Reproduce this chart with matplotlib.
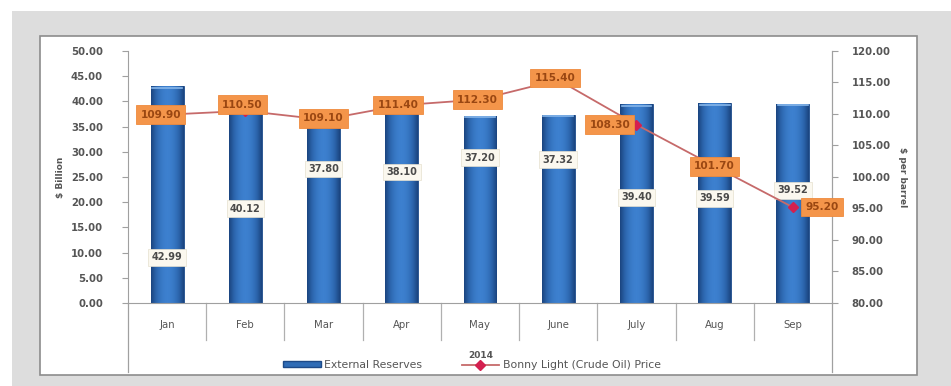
import numpy as np
import matplotlib.pyplot as plt
from matplotlib.patches import Rectangle
from matplotlib.lines import Line2D

# monthly figures, 2014
months = ['Jan', 'Feb', 'Mar', 'Apr', 'May', 'June', 'July', 'Aug', 'Sep']
reserves = [42.99, 40.12, 37.80, 38.10, 37.20, 37.32, 39.40, 39.59, 39.52]
oil_price = [109.90, 110.50, 109.10, 111.40, 112.30, 115.40, 108.30, 101.70, 95.20]

# where the reserve labels sit on each bar ($ billion scale)
reserve_label_y = [9.1, 18.7, 26.6, 26.0, 28.8, 28.4, 21.0, 20.8, 22.4]
# nudges of the price labels (category units / $ per barrel)
price_label_dx = [-0.08, -0.04, 0.0, -0.05, -0.03, -0.04, -0.34, 0.0, 0.37]
price_label_dy = [0.0, 1.0, 0.2, 0.0, 0.0, 0.3, 0.0, 0.0, 0.0]

W, H = 951, 386
fig = plt.figure(figsize=(W / 100, H / 100), dpi=100)
fig.patch.set_facecolor('white')

def px(x, y, w, h):
    return (x / W, 1 - (y + h) / H, w / W, h / H)

# grey backdrop and white chart panel
x0, y0, w0, h0 = px(12, 11, 939, 375)
fig.patches.append(Rectangle((x0, y0), w0, h0, transform=fig.transFigure,
                             facecolor='#dddddd', edgecolor='none', zorder=-10))
x1, y1, w1, h1 = px(40, 36, 877, 339)
fig.patches.append(Rectangle((x1, y1), w1, h1, transform=fig.transFigure,
                             facecolor='white', edgecolor='#8c8c8c', linewidth=1.2, zorder=-9))

ax = fig.add_axes(px(128, 51, 704, 252))
ax.patch.set_alpha(0)
x = np.arange(len(months))
ax.set_xlim(-0.5, len(months) - 0.5)
ax.set_ylim(0, 50)
ax.set_yticks(np.arange(0, 50.1, 5))
ax.set_yticklabels(['%.2f' % v for v in np.arange(0, 50.1, 5)])

# bars with a cylinder-like shading
bar_w = 0.42
bars = ax.bar(x, reserves, width=bar_w, color='#2f6cb6', edgecolor='#1d4a88', linewidth=0.6, zorder=2)
grad = np.linspace(0, 1, 64)
shade = np.sin(np.pi * (0.08 + 0.84 * grad))
cmap = plt.matplotlib.colors.LinearSegmentedColormap.from_list('blu', ['#1b4580', '#2c66ae', '#3d80cf'])
for b in bars:
    im = ax.imshow(shade[np.newaxis, :], cmap=cmap, aspect='auto', vmin=0.25, vmax=1.0,
                   extent=(b.get_x(), b.get_x() + b.get_width(), 0, b.get_height()), zorder=2.1)
    im.set_clip_path(b)
    ax.plot([b.get_x() + 0.02, b.get_x() + b.get_width() - 0.02], [b.get_height() - 0.25] * 2,
            color='#86b6ea', lw=1.2, zorder=2.2)

for i, (v, ly) in enumerate(zip(reserves, reserve_label_y)):
    ax.text(x[i], ly, '%.2f' % v, ha='center', va='center', fontsize=7, fontweight='bold',
            color='#4a4a4a', zorder=5,
            bbox=dict(boxstyle='square,pad=0.35', facecolor='#fbf8ef', edgecolor='#e6e0cf', lw=0.5))

ax.spines['top'].set_visible(False)
for s in ['left', 'bottom', 'right']:
    ax.spines[s].set_color('#a0a0a0')
ax.tick_params(axis='y', direction='out', length=4, colors='#a0a0a0', labelcolor='#555555',
               labelsize=7.3, pad=14)
for t in ax.get_yticklabels():
    t.set_fontweight('bold')
ax.set_xticks(x)
ax.set_xticklabels(months, fontsize=7.3, color='#555555')
ax.tick_params(axis='x', length=0, pad=12)
ax.set_ylabel('$ Billion', fontsize=6.5, color='#555555', fontweight='bold', labelpad=4)

# category separators below the axis
for k in range(1, len(months)):
    ax.add_line(Line2D([k - 0.5, k - 0.5], [0, -0.147], transform=ax.get_xaxis_transform(),
                       color='#b0b0b0', lw=0.9, clip_on=False))
for xe in (-0.5, len(months) - 0.5):
    ax.add_line(Line2D([xe, xe], [0, -0.274], transform=ax.get_xaxis_transform(),
                       color='#a0a0a0', lw=0.9, clip_on=False))

ax2 = ax.twinx()
ax2.set_ylim(80, 120)
ax2.set_yticks(np.arange(80, 120.1, 5))
ax2.set_yticklabels(['%.2f' % v for v in np.arange(80, 120.1, 5)])
for s in ['top', 'left', 'bottom']:
    ax2.spines[s].set_visible(False)
ax2.spines['right'].set_color('#a0a0a0')
ax2.tick_params(axis='y', direction='out', length=4, colors='#a0a0a0', labelcolor='#555555',
                labelsize=7.3, pad=10)
for t in ax2.get_yticklabels():
    t.set_fontweight('bold')
ax2.set_ylabel('$ per barrel', fontsize=6.5, color='#555555', fontweight='bold',
               rotation=270, labelpad=12)

ax2.plot(x, oil_price, color='#c66a6a', lw=1.3, marker='D', markersize=5,
         markerfacecolor='#d4204f', markeredgecolor='#d4204f', zorder=3)
for i, v in enumerate(oil_price):
    ax2.text(x[i] + price_label_dx[i], v + price_label_dy[i], '%.2f' % v, ha='center', va='center',
             fontsize=7.6, fontweight='bold', color='#9a4712', zorder=6,
             bbox=dict(boxstyle='square,pad=0.4', facecolor='#f4954a', edgecolor='#ef8a3c', lw=0.6))

fig.text(481 / W, 1 - 356 / H, '2014', fontsize=6.5, fontweight='bold', color='#555555',
         ha='center', va='center')

h_bar = Rectangle((0, 0), 1, 1, facecolor='#2f6cb6', edgecolor='#1d4a88')
h_line = Line2D([], [], color='#c66a6a', lw=1.3, marker='D', markersize=5,
                markerfacecolor='#d4204f', markeredgecolor='#d4204f')
fig.legend([h_bar, h_line], ['External Reserves', 'Bonny Light (Crude Oil) Price'],
           loc='center', bbox_to_anchor=(472 / W, 1 - 365 / H), ncol=2, frameon=False,
           fontsize=7.8, handlelength=3.5, handleheight=0.45, columnspacing=3.6,
           handletextpad=0.3, labelcolor='#555555')

fig.savefig('out.png', dpi=100)
